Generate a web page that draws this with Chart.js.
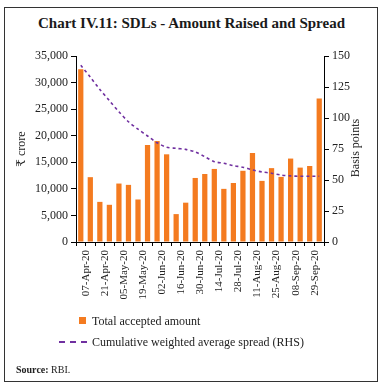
<!DOCTYPE html>
<html>
<head>
<meta charset="utf-8">
<script src="https://cdn.jsdelivr.net/npm/chart.js@4"></script>
<style>
  html, body { margin: 0; padding: 0; background: #fff; }
  #wrap { position: relative; width: 383px; height: 388px; font-family: "Liberation Serif", "DejaVu Serif", serif; color: #222; }
  #frame { position: absolute; left: 4px; top: 7px; width: 372px; height: 373px; border: 1.5px solid #333; }
  #title { position: absolute; left: 0; width: 383px; top: 15px; text-align: center; font-weight: bold; font-size: 15px; color: #1a1a1a; }
  #c { position: absolute; left: 0; top: 0; }
  #rtitle { position: absolute; left: 315px; top: 141px; width: 80px; height: 14px; line-height: 14px; text-align: center;
            font-size: 12px; color: #222; transform: rotate(-90deg); transform-origin: 50% 50%; }
  .lg { position: absolute; left: 92px; font-size: 12px; color: #222; line-height: 14px; }
  #sw1 { position: absolute; left: 79px; top: 317px; width: 7px; height: 7px; background: #F47B20; }
  #sw2 { position: absolute; left: 59px; top: 341px; width: 28px; height: 0; border-top: 2px dashed #7030A0; }
  #src { position: absolute; left: 16px; top: 364px; font-size: 10px; color: #222; }
</style>
</head>
<body>
<div id="wrap">
  <div id="frame"></div>
  <div id="title">Chart IV.11: SDLs - Amount Raised and Spread</div>
  <canvas id="c" width="383" height="388"></canvas>
  <div id="rtitle">Basis points</div>
  <div id="sw1"></div>
  <div class="lg" style="top:314px">Total accepted amount</div>
  <div id="sw2"></div>
  <div class="lg" style="top:335px">Cumulative weighted average spread (RHS)</div>
  <div id="src"><b>Source:</b> RBI.</div>
</div>
<script>
const categories = ["07-Apr-20","14-Apr-20","21-Apr-20","28-Apr-20","05-May-20","12-May-20","19-May-20","26-May-20",
  "02-Jun-20","09-Jun-20","16-Jun-20","23-Jun-20","30-Jun-20","07-Jul-20","14-Jul-20","21-Jul-20","28-Jul-20",
  "04-Aug-20","11-Aug-20","18-Aug-20","25-Aug-20","01-Sep-20","08-Sep-20","15-Sep-20","22-Sep-20","29-Sep-20"];
const tickLabels = ["07-Apr-20","21-Apr-20","05-May-20","19-May-20","02-Jun-20","16-Jun-20","30-Jun-20",
  "14-Jul-20","28-Jul-20","11-Aug-20","25-Aug-20","08-Sep-20","29-Sep-20"];
const amountRaised = [32500,12200,7550,7000,11000,10750,8000,18250,19000,16500,5250,7400,12050,12800,13750,10000,
  11100,13400,16750,11500,13900,12250,15700,14000,14300,27000];
const spreadBps = [142.5,133,123,114,105,97,91,85.5,80,76.5,75.5,74.7,72.6,68.8,64.8,63.5,61.6,60.3,58.1,56.5,
  55.5,54,53.3,53,53,53];
const leftTicks = [0,5000,10000,15000,20000,25000,30000,35000];
const rightTicks = [0,25,50,75,100,125,150];

const FONT = "'Liberation Serif', 'DejaVu Serif', serif";
new Chart(document.getElementById('c'), {
  type: 'bar',
  data: {
    labels: categories,
    datasets: [
      { type: 'line', label: 'Cumulative weighted average spread (RHS)', data: spreadBps, yAxisID: 'y2',
        borderColor: '#7030A0', borderWidth: 1.6, borderDash: [3, 3], pointRadius: 0, tension: 0.3, fill: false, order: 0 },
      { type: 'bar', label: 'Total accepted amount', data: amountRaised, yAxisID: 'y',
        backgroundColor: '#F47B20', barPercentage: 0.55, categoryPercentage: 1.0, order: 1 }
    ]
  },
  options: {
    responsive: false, animation: false, maintainAspectRatio: false,
    layout: { padding: { left: 11, right: 17, top: 56, bottom: 0 } },
    plugins: { legend: { display: false }, tooltip: { enabled: false } },
    scales: {
      x: {
        afterFit: s => { s.height = 146; },
        grid: { display: true, offset: true, drawOnChartArea: false, drawTicks: true, tickLength: 4, color: '#000', lineWidth: 1 },
        border: { display: true, color: '#000', width: 1 },
        ticks: { autoSkip: false, maxRotation: 90, minRotation: 90, padding: 4, labelOffset: 5,
          color: '#222', font: { family: FONT, size: 11 },
          callback: (v, i) => (i % 2 === 0 ? tickLabels[i / 2] : '') }
      },
      y: {
        position: 'left', min: 0, max: 35000,
        afterFit: s => { s.width = 65; },
        afterBuildTicks: s => { s.ticks = leftTicks.map(v => ({ value: v })); },
        grid: { display: true, drawOnChartArea: false, drawTicks: true, tickLength: 5, color: '#000' },
        border: { display: true, color: '#000', width: 1 },
        ticks: { padding: 3, color: '#222', font: { family: FONT, size: 12 },
          callback: v => v.toLocaleString('en-US') },
        title: { display: true, text: '₹ crore', color: '#222', font: { family: FONT, size: 12 }, padding: { top: 4, bottom: 4 } }
      },
      y2: {
        position: 'right', min: 0, max: 150,
        afterFit: s => { s.width = 42; },
        afterBuildTicks: s => { s.ticks = rightTicks.map(v => ({ value: v })); },
        grid: { display: true, drawOnChartArea: false, drawTicks: true, tickLength: 5, color: '#000' },
        border: { display: true, color: '#000', width: 1 },
        ticks: { padding: 3, color: '#222', font: { family: FONT, size: 12 } },
        title: { display: false }
      }
    }
  }
});
</script>
</body>
</html>
